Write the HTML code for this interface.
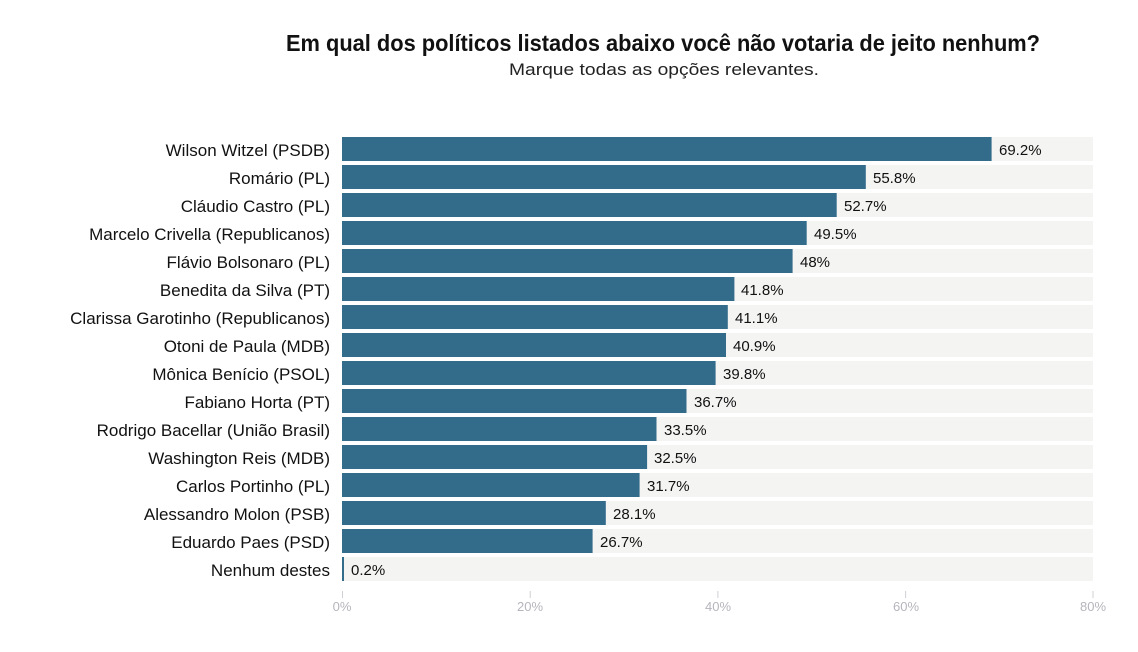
<!DOCTYPE html>
<html><head><meta charset="utf-8"><style>
html,body{margin:0;padding:0;background:#fff;}
svg{display:block;}
text{font-family:"Liberation Sans",sans-serif;}
</style></head><body>
<svg width="1138" height="652" viewBox="0 0 1138 652" xmlns="http://www.w3.org/2000/svg">
<rect width="1138" height="652" fill="#fff"/>
<text x="286" y="51" font-size="23" font-weight="bold" fill="#111" textLength="754" lengthAdjust="spacingAndGlyphs">Em qual dos políticos listados abaixo você não votaria de jeito nenhum?</text>
<text x="509" y="75" font-size="17" fill="#222" textLength="310" lengthAdjust="spacingAndGlyphs">Marque todas as opções relevantes.</text>
<g id="rows"></g>
<g stroke="#d0d0d4" stroke-width="1">
<line x1="342.5" y1="591" x2="342.5" y2="598"/>
<line x1="530.2" y1="591" x2="530.2" y2="598"/>
<line x1="717.9" y1="591" x2="717.9" y2="598"/>
<line x1="905.6" y1="591" x2="905.6" y2="598"/>
<line x1="1093" y1="591" x2="1093" y2="598"/>
</g>
<g font-size="13" fill="#b5b5bd" text-anchor="middle">
<text x="342" y="611">0%</text>
<text x="530" y="611">20%</text>
<text x="718" y="611">40%</text>
<text x="906" y="611">60%</text>
<text x="1093" y="611">80%</text>
</g>
<g font-size="17" fill="#111" text-anchor="end">
<text x="330" y="156">Wilson Witzel (PSDB)</text>
<text x="330" y="184">Romário (PL)</text>
<text x="330" y="212">Cláudio Castro (PL)</text>
<text x="330" y="240">Marcelo Crivella (Republicanos)</text>
<text x="330" y="268">Flávio Bolsonaro (PL)</text>
<text x="330" y="296">Benedita da Silva (PT)</text>
<text x="330" y="324">Clarissa Garotinho (Republicanos)</text>
<text x="330" y="352">Otoni de Paula (MDB)</text>
<text x="330" y="380">Mônica Benício (PSOL)</text>
<text x="330" y="408">Fabiano Horta (PT)</text>
<text x="330" y="436">Rodrigo Bacellar (União Brasil)</text>
<text x="330" y="464">Washington Reis (MDB)</text>
<text x="330" y="492">Carlos Portinho (PL)</text>
<text x="330" y="520">Alessandro Molon (PSB)</text>
<text x="330" y="548">Eduardo Paes (PSD)</text>
<text x="330" y="576">Nenhum destes</text>
</g>
<g fill="#f4f4f3">
<rect x="342" y="137" width="751" height="24"/>
<rect x="342" y="165" width="751" height="24"/>
<rect x="342" y="193" width="751" height="24"/>
<rect x="342" y="221" width="751" height="24"/>
<rect x="342" y="249" width="751" height="24"/>
<rect x="342" y="277" width="751" height="24"/>
<rect x="342" y="305" width="751" height="24"/>
<rect x="342" y="333" width="751" height="24"/>
<rect x="342" y="361" width="751" height="24"/>
<rect x="342" y="389" width="751" height="24"/>
<rect x="342" y="417" width="751" height="24"/>
<rect x="342" y="445" width="751" height="24"/>
<rect x="342" y="473" width="751" height="24"/>
<rect x="342" y="501" width="751" height="24"/>
<rect x="342" y="529" width="751" height="24"/>
<rect x="342" y="557" width="751" height="24"/>
</g>
<g fill="#336b8b">
<rect x="342" y="137" width="649.6" height="24"/>
<rect x="342" y="165" width="523.8" height="24"/>
<rect x="342" y="193" width="494.7" height="24"/>
<rect x="342" y="221" width="464.7" height="24"/>
<rect x="342" y="249" width="450.6" height="24"/>
<rect x="342" y="277" width="392.4" height="24"/>
<rect x="342" y="305" width="385.8" height="24"/>
<rect x="342" y="333" width="384.0" height="24"/>
<rect x="342" y="361" width="373.6" height="24"/>
<rect x="342" y="389" width="344.5" height="24"/>
<rect x="342" y="417" width="314.5" height="24"/>
<rect x="342" y="445" width="305.1" height="24"/>
<rect x="342" y="473" width="297.6" height="24"/>
<rect x="342" y="501" width="263.8" height="24"/>
<rect x="342" y="529" width="250.6" height="24"/>
<rect x="342" y="557" width="2" height="24"/>
</g>
<g font-size="15" fill="#111">
<text x="999" y="155">69.2%</text>
<text x="873" y="183">55.8%</text>
<text x="844" y="211">52.7%</text>
<text x="814" y="239">49.5%</text>
<text x="800" y="267">48%</text>
<text x="741" y="295">41.8%</text>
<text x="735" y="323">41.1%</text>
<text x="733" y="351">40.9%</text>
<text x="723" y="379">39.8%</text>
<text x="694" y="407">36.7%</text>
<text x="664" y="435">33.5%</text>
<text x="654" y="463">32.5%</text>
<text x="647" y="491">31.7%</text>
<text x="613" y="519">28.1%</text>
<text x="600" y="547">26.7%</text>
<text x="351" y="575">0.2%</text>
</g>
</svg>
</body></html>
